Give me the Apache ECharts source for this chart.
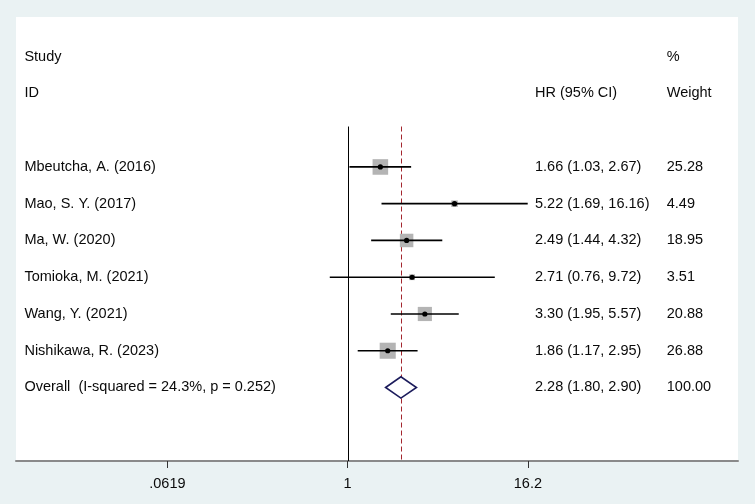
<!DOCTYPE html>
<html>
<head>
<meta charset="utf-8">
<script src="https://cdn.jsdelivr.net/npm/echarts@6/dist/echarts.min.js"></script>
<style>html,body{margin:0;padding:0;background:#fff}#c{width:755px;height:504px}</style>
</head>
<body>
<div id="c"></div>
<script>
// ---- data ----
const studies = ['Mbeutcha, A. (2016)', 'Mao, S. Y. (2017)', 'Ma, W. (2020)', 'Tomioka, M. (2021)', 'Wang, Y. (2021)', 'Nishikawa, R. (2023)'];
const hr = [1.66, 5.22, 2.49, 2.71, 3.30, 1.86];
const ciLow = [1.03, 1.69, 1.44, 0.76, 1.95, 1.17];
const ciHigh = [2.67, 16.16, 4.32, 9.72, 5.57, 2.95];
const weights = [25.28, 4.49, 18.95, 3.51, 20.88, 26.88];
const overallLabel = 'Overall  (I-squared = 24.3%, p = 0.252)';
const overallHR = 2.28, overallLow = 1.80, overallHigh = 2.90, overallWeight = 100.00;
const tickValues = [0.0619, 1, 16.2];
const tickLabels = ['.0619', '1', '16.2'];
const headerTop = ['Study', '', '%'];
const headerBottom = ['ID', 'HR (95% CI)', 'Weight'];

// ---- layout / style ----
const FONT = '14.5px "Liberation Sans", Arial, sans-serif';
const TXT = '#0a0a0a';
const COL_STUDY = -4.99, COL_HR = 2.895, COL_W = 4.93;
const FIRST_ROW = 3;
const LINE_TOP = 1.9, LINE_BOTTOM = 11;
const ln = Math.log;

const textData = [];
textData.push([COL_STUDY, 0, headerTop[0]]);
textData.push([COL_W, 0, headerTop[2]]);
textData.push([COL_STUDY, 1, headerBottom[0]]);
textData.push([COL_HR, 1, headerBottom[1]]);
textData.push([COL_W, 1, headerBottom[2]]);
studies.forEach((s, i) => {
  const r = FIRST_ROW + i;
  textData.push([COL_STUDY, r, s]);
  textData.push([COL_HR, r, hr[i].toFixed(2) + ' (' + ciLow[i].toFixed(2) + ', ' + ciHigh[i].toFixed(2) + ')']);
  textData.push([COL_W, r, weights[i].toFixed(2)]);
});
const overallRow = FIRST_ROW + studies.length;
textData.push([COL_STUDY, overallRow, overallLabel]);
textData.push([COL_HR, overallRow, overallHR.toFixed(2) + ' (' + overallLow.toFixed(2) + ', ' + overallHigh.toFixed(2) + ')']);
textData.push([COL_W, overallRow, overallWeight.toFixed(2)]);

const studyData = studies.map((s, i) => [FIRST_ROW + i, ln(hr[i]), ln(ciLow[i]), ln(ciHigh[i]), weights[i]]);

const chart = echarts.init(document.getElementById('c'), null, {renderer: 'canvas'});
chart.setOption({
  animation: false,
  backgroundColor: '#eaf2f3',
  grid: {left: 16, right: 17, top: 17, bottom: 43, show: true, backgroundColor: '#ffffff', borderWidth: 0},
  xAxis: {
    type: 'value', min: -5.12, max: 6.03,
    splitLine: {show: false},
    axisLine: {show: true, onZero: false, lineStyle: {color: '#8a8a8a', width: 2}},
    axisTick: {show: true, length: 7, lineStyle: {color: '#333', width: 1}, customValues: tickValues.map(ln)},
    axisLabel: {
      show: true, margin: 15, color: TXT, fontSize: 14.5, fontFamily: '"Liberation Sans", Arial, sans-serif',
      customValues: tickValues.map(ln),
      formatter: (v) => {
        let best = 0, d = Infinity;
        tickValues.forEach((t, i) => { const dd = Math.abs(ln(t) - v); if (dd < d) { d = dd; best = i; } });
        return tickLabels[best];
      }
    }
  },
  yAxis: {type: 'value', min: -1.08, max: 11, inverse: true, show: false},
  series: [
    { // null line and overall line
      type: 'custom', z: 1,
      data: [[0, 0], [ln(overallHR), 1]],
      renderItem: (params, api) => {
        const x = api.value(0);
        const p1 = api.coord([x, LINE_TOP]);
        const p2 = api.coord([x, LINE_BOTTOM]);
        const dashed = api.value(1) === 1;
        return {
          type: 'line',
          shape: {x1: Math.round(p1[0]) + 0.5, y1: p1[1], x2: Math.round(p2[0]) + 0.5, y2: p2[1]},
          style: dashed ? {stroke: '#a3262e', lineWidth: 1, lineDash: [5, 3]} : {stroke: '#000', lineWidth: 1}
        };
      }
    },
    { // studies
      type: 'custom', z: 2,
      data: studyData,
      renderItem: (params, api) => {
        const row = api.value(0);
        const c = api.coord([api.value(1), row]);
        const l = api.coord([api.value(2), row]);
        const h = api.coord([api.value(3), row]);
        const side = 3.1 * Math.sqrt(api.value(4));
        return {
          type: 'group',
          children: [
            {type: 'rect', shape: {x: c[0] - side / 2, y: c[1] - side / 2, width: side, height: side}, style: {fill: '#b4b4b4'}},
            {type: 'line', shape: {x1: l[0], y1: c[1], x2: h[0], y2: c[1]}, style: {stroke: '#000', lineWidth: 1.7}},
            {type: 'circle', shape: {cx: c[0], cy: c[1], r: 2.6}, style: {fill: '#000'}}
          ]
        };
      }
    },
    { // overall diamond
      type: 'custom', z: 3,
      data: [[overallRow, ln(overallHR), ln(overallLow), ln(overallHigh)]],
      renderItem: (params, api) => {
        const row = api.value(0);
        const c = api.coord([api.value(1), row]);
        const l = api.coord([api.value(2), row]);
        const h = api.coord([api.value(3), row]);
        const top = api.coord([api.value(1), row - 0.29]);
        const bot = api.coord([api.value(1), row + 0.29]);
        return {
          type: 'polygon',
          shape: {points: [[l[0], c[1]], [top[0], top[1]], [h[0], c[1]], [bot[0], bot[1]]]},
          style: {fill: '#ffffff', stroke: '#1c1c5c', lineWidth: 1.6}
        };
      }
    },
    { // texts
      type: 'custom', z: 4,
      data: textData,
      renderItem: (params, api) => {
        const p = api.coord([api.value(0), api.value(1)]);
        return {
          type: 'text',
          style: {text: textData[params.dataIndex][2], x: p[0], y: p[1], fill: TXT, font: FONT, align: 'left', verticalAlign: 'middle'}
        };
      }
    }
  ]
});
</script>
</body>
</html>
